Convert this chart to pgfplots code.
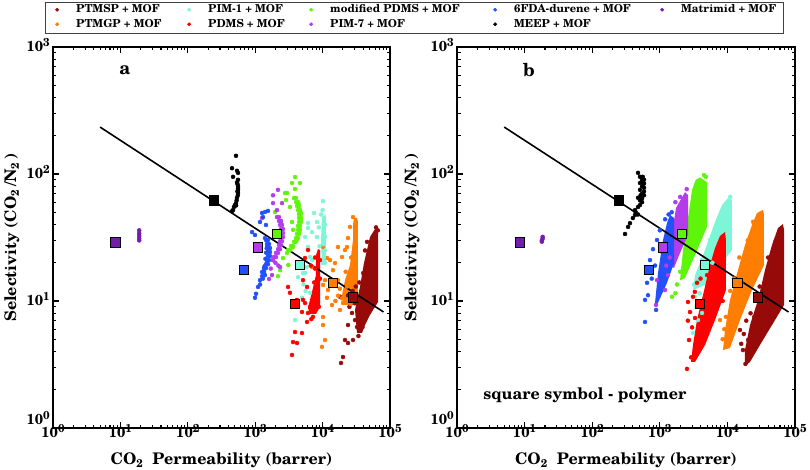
\documentclass[border=0pt]{standalone}
\usepackage{pgfplots}
\pgfplotsset{compat=1.18}
\usepackage{fontspec}
\setmainfont{TeX Gyre Schola}
\definecolor{cPTMSP}{RGB}{150,10,10}
\definecolor{cPTMGP}{RGB}{255,125,0}
\definecolor{cPIMone}{RGB}{125,245,215}
\definecolor{cPDMS}{RGB}{255,0,0}
\definecolor{cMod}{RGB}{95,245,10}
\definecolor{cPIMseven}{RGB}{180,60,235}
\definecolor{cFDA}{RGB}{35,80,250}
\definecolor{cMEEP}{RGB}{0,0,0}
\definecolor{cMatri}{RGB}{115,30,170}
\newcommand{\tp}[1]{10\raisebox{5pt}{\fontsize{11.5}{11.5}\selectfont #1}}
\pgfplotsset{
  mySc/.style={only marks, mark=*, mark size=2pt, color=#1, mark options={draw=none, fill=#1}, forget plot},
  myAr/.style={fill=#1, draw=none, forget plot},
  mySq/.style={only marks, mark=square*, mark size=4.6pt, mark options={fill=#1, draw=black, line width=0.6pt}, forget plot},
  myBound/.style={black, line width=1.6pt, forget plot},
}
\begin{document}
\begin{tikzpicture}
\useasboundingbox (0,0) rectangle (810pt,470pt);
% ================= panel a =================
\begin{axis}[at={(53pt,42pt)}, anchor=south west, width=337pt,
    xmode=log, ymode=log, xmin=1, xmax=100000, ymin=1, ymax=1000,
    scale only axis, height=381pt,
    axis line style={line width=1.8pt},
    tick align=inside, major tick length=6pt, minor tick length=3.5pt,
    tick style={black, line width=1.1pt},
    xtick={1,10,100,1000,10000,100000},
    xticklabels={\tp{0},\tp{1},\tp{2},\tp{3},\tp{4},\tp{5}},
    minor xtick={2,3,4,5,6,7,8,9,20,30,40,50,60,70,80,90,200,300,400,500,600,700,800,900,2000,3000,4000,5000,6000,7000,8000,9000,20000,30000,40000,50000,60000,70000,80000,90000},
    ytick={1,10,100,1000},
    yticklabels={\raisebox{8pt}{\tp{0}},\tp{1},\tp{2},\tp{3}},
    minor ytick={2,3,4,5,6,7,8,9,20,30,40,50,60,70,80,90,200,300,400,500,600,700,800,900},
    xticklabel style={font=\bfseries\fontsize{14.5}{14.5}\selectfont, anchor=base, yshift=-10pt, inner sep=0pt},
    yticklabel style={font=\bfseries\fontsize{14.5}{14.5}\selectfont, anchor=base east, yshift=-5pt, xshift=-3pt, inner sep=0pt},
    xlabel={CO\textsubscript{2}\ \ Permeability (barrer)},
    ylabel={Selectivity (CO\textsubscript{2}\,/N\textsubscript{2}\,)},
    label style={font=\bfseries\fontsize{16}{18}\selectfont},
    xlabel style={at={(axis description cs:0.5,-0.0971)}, anchor=base},
    ylabel style={at={(axis description cs:-0.1217,0.5)}, anchor=center},
  legend columns=5, legend cell align=left,
  legend style={at={(axis description cs:-0.00593,1.0787)}, anchor=west, draw=none, fill=none, inner sep=0pt,
    font=\bfseries\fontsize{11}{12}\selectfont,
    nodes={inner sep=0pt, text height=8.5pt, text depth=2.5pt},
    /tikz/row sep=3.5pt,
    /tikz/every odd column/.append style={column sep=13pt}},
  legend image code/.code={\path[draw=none, fill=none] (0pt,-3pt) (12pt,3pt); \draw[#1] plot coordinates {(6pt,0pt)};},
]
\addlegendimage{only marks, mark=*, mark size=1.7pt, cPTMSP}
\addlegendentry{\makebox[107pt][l]{PTMSP + MOF}}
\addlegendimage{only marks, mark=*, mark size=1.7pt, cPIMone}
\addlegendentry{\makebox[97pt][l]{PIM-1 + MOF}}
\addlegendimage{only marks, mark=*, mark size=1.7pt, cMod}
\addlegendentry{\makebox[159pt][l]{modified PDMS + MOF}}
\addlegendimage{only marks, mark=*, mark size=1.7pt, cFDA}
\addlegendentry{\makebox[142pt][l]{6FDA-durene + MOF}}
\addlegendimage{only marks, mark=*, mark size=1.7pt, cMatri}
\addlegendentry{\makebox[95pt][l]{Matrimid + MOF}}
\addlegendimage{only marks, mark=*, mark size=1.7pt, cPTMGP}
\addlegendentry{\makebox[107pt][l]{PTMGP + MOF}}
\addlegendimage{only marks, mark=*, mark size=1.7pt, cPDMS}
\addlegendentry{\makebox[97pt][l]{PDMS + MOF}}
\addlegendimage{only marks, mark=*, mark size=1.7pt, cPIMseven}
\addlegendentry{\makebox[159pt][l]{PIM-7 + MOF}}
\addlegendimage{only marks, mark=*, mark size=1.7pt, cMEEP}
\addlegendentry{\makebox[142pt][l]{MEEP + MOF}}

% PTMSP
\addplot[myAr=cPTMSP] coordinates {(64130,37.6) (66380,37) (66380,9.82) (50470,7.76) (42580,6.47) (38460,5.60) (32380,5.60) (30270,8.49) (32380,10.2) (35890,12.9) (41120,19.9) (50470,31.9) (59870,36.9) (64130,37.6)};
\addplot[mySc=cPTMSP] coordinates {(27290,8.05) (30270,7.08) (23830,6.47) (21480,4.93) (20080,3.62) (18750,3.25) (27290,9.64) (32380,6.24) (35890,5.91) (18110,10.8) (23830,11.1) (28250,4.93) (23830,4.67) (45600,29.2) (42580,25) (60000,33) (40000,16.6) (35000,14) (30000,9.6) (27000,11) (28000,12) (25000,9) (31000,13) (45000,15) (56000,20) (66000,36) (62000,38) (39000,6.2) (34000,5.3)};
% PTMGP
\addplot[myAr=cPTMGP] coordinates {(29240,45.1) (32380,45.1) (33500,41.9) (33500,10.2) (27290,9.30) (20080,9.30) (19390,11.1) (21480,14.6) (25520,19.2) (28250,30.2) (28250,39.7) (29240,45.1)};
\addplot[mySc=cPTMGP] coordinates {(28250,45.8) (25520,38.3) (23830,31.3) (16910,26.6) (23010,26.6) (10140,26.6) (11620,21.8) (15280,19.9) (6966,18.5) (12880,21) (14260,17.5) (10860,14.6) (10140,13.4) (12030,12.2) (21480,25.2) (19390,22.2) (16910,14.6) (20080,9.64) (18110,8.49) (10140,7.48) (10140,6.47) (10860,4.93) (9790,4.35) (13780,9.30) (11620,10.6) (25520,14) (23010,13) (21480,11.8) (19390,10.5) (26000,9.5) (18000,12.5) (17000,11) (15500,10) (22000,17) (26500,22)};
% PIM-1
\addplot[myAr=cPIMone] coordinates {(9790,45.8) (11230,47.6) (11230,20.3) (9790,19.2) (9470,30.2) (9790,45.8)};
\addplot[mySc=cPIMone] coordinates {(10140,61.2) (7454,49.3) (8260,41.9) (6070,41.1) (6070,37.6) (6966,34.9) (8260,31.9) (5483,31.9) (6070,26.6) (6500,22.2) (4623,19.2) (4316,15.4) (5117,16.6) (4943,10.6) (3899,7.08) (6500,11.6) (5483,16.6) (9500,48) (10000,52) (8800,38) (9000,27) (7000,21) (5800,18.5) (5200,13.5) (5600,12) (10490,45.1) (10860,40) (10490,36) (10860,32) (10490,28) (10860,25) (10490,22) (10860,20) (10140,19.9)};
% PDMS
\addplot[myAr=cPDMS] coordinates {(8550,25.6) (9150,25.2) (9150,8.97) (7980,7.91) (6500,7.91) (6070,8.81) (6966,11.8) (7980,16) (7980,23) (8550,25.6)};
\addplot[mySc=cPDMS] coordinates {(6070,25.2) (5483,21.8) (5117,14.6) (5870,12.9) (3069,12.9) (3281,11.6) (4170,10.2) (4943,8.19) (5117,10.2) (6500,8.97) (5483,9.64) (6070,8.05) (5870,6.84) (3899,5.7) (4943,5.6) (3640,4.75) (4170,4.67) (3516,3.76) (7200,7.5) (6800,7.2) (6700,19) (7500,14) (7400,11) (9150,21) (9150,15) (8800,9) (7710,22) (7710,18)};
% modified PDMS
\addplot[mySc=cMod] coordinates {(3899,94.6) (4623,84.9) (3516,84.9) (3899,76.2) (2768,70.9) (2965,70.9) (2864,62.4) (3281,55) (1967,50.2) (3516,41.9) (3640,36.3) (2584,21.8) (3100,19.2) (2334,17.5) (2178,15.7)
 (4030,64.7) (4316,60.2) (4467,56) (4623,52.1) (4786,48.4) (4786,45.1) (4786,41.9) (4623,39) (4623,36.3) (4467,33.7) (4316,31.3) (4030,29.2) (3640,27.1) (3281,25.2) (2965,23.9)
 (3767,64.7) (4030,60.2) (4170,56) (4316,52.1) (4467,48.4) (4467,45.1) (4467,41.9) (4316,39) (4316,36.3) (4170,33.7) (4030,31.3) (3767,29.2) (3396,27.1) (3069,25.2)
 (4400,58) (4700,50) (4750,43.5) (4500,34.5) (4100,30) (3600,26.5)};
% PIM-7
\addplot[mySc=cPIMseven] coordinates {(1837,68) (2178,75) (2500,59) (1837,59) (2105,52) (1262,45) (2400,42) (1837,21) (2334,18.5) (1775,16) (1603,14.9) (2000,20) (2200,19) (1700,18)
 (2254,45.8) (2415,42.7) (2500,39.7) (2584,36.9) (2584,34.3) (2584,31.9) (2500,29.6) (2415,27.6) (2334,25.6) (2178,23.9) (2037,22.2) (1837,21.0)
 (2105,45.8) (2256,42.7) (2335,39.7) (2414,36.9) (2414,34.3) (2414,31.9) (2335,29.6) (2256,27.6) (2180,25.6) (2034,23.9) (1903,22.2)};
% 6FDA-durene
\addplot[mySc=cFDA] coordinates {(1262,49.3) (1397,50.2) (1549,51.2) (1305,45.8) (1178,41.9) (1445,39.7) (897,34.9) (993,33.1) (1397,31.3) (1520,27) (1450,24) (1480,26) (1420,21.5) (1380,18.8) (1350,17.5) (1397,16) (1101,12.9) (1028,11.4) (993,10.6) (1180,13.5) (1300,15) (1500,20)
 (1549,30.2) (1603,28.1) (1659,26.1) (1659,24.3) (1659,22.6) (1603,21) (1549,19.5) (1445,18.2) (1352,16.9) (1262,15.7) (1178,14.6)
 (1447,30.2) (1497,28.1) (1550,26.1) (1550,24.3) (1550,22.6) (1497,21) (1447,19.5) (1350,18.2) (1263,16.9)};
% MEEP
\addplot[mySc=cMEEP] coordinates {(519,139) (453,111) (537,106) (556,102) (469,95) (556,90) (537,86) (556,80) (556,75) (556,71) (552,68) (537,65) (530,62) (519,59) (500,57) (484,55) (469,52) (453,51) (548,83) (556,77) (545,73) (520,56.5)};
% Matrimid
\addplot[mySc=cMatri] coordinates {(19,36) (19,34) (19,32.5) (19,31) (19,30)};
% polymers
\addplot[mySq=cMatri] coordinates {(8.4,29)};
\addplot[mySq=cMEEP] coordinates {(245,62)};
\addplot[mySq=cFDA] coordinates {(680,17.5)};
\addplot[mySq=cPIMseven] coordinates {(1100,26.5)};
\addplot[mySq=cMod] coordinates {(2100,34)};
\addplot[mySq=cPIMone] coordinates {(4600,19.2)};
\addplot[mySq=cPDMS] coordinates {(3900,9.5)};
\addplot[mySq=cPTMGP] coordinates {(14000,13.9)};
\addplot[mySq=cPTMSP] coordinates {(28000,10.7)};
\addplot[myBound] coordinates {(5,234) (80000,8.2)};
\node[font=\bfseries\fontsize{18}{18}\selectfont] at (axis cs:11.7,660) {a};
\end{axis}
% ================= panel b =================
\begin{axis}[at={(457pt,42pt)}, anchor=south west, width=338pt,
    xmode=log, ymode=log, xmin=1, xmax=100000, ymin=1, ymax=1000,
    scale only axis, height=381pt,
    axis line style={line width=1.8pt},
    tick align=inside, major tick length=6pt, minor tick length=3.5pt,
    tick style={black, line width=1.1pt},
    xtick={1,10,100,1000,10000,100000},
    xticklabels={\tp{0},\tp{1},\tp{2},\tp{3},\tp{4},\tp{5}},
    minor xtick={2,3,4,5,6,7,8,9,20,30,40,50,60,70,80,90,200,300,400,500,600,700,800,900,2000,3000,4000,5000,6000,7000,8000,9000,20000,30000,40000,50000,60000,70000,80000,90000},
    ytick={1,10,100,1000},
    yticklabels={\raisebox{8pt}{\tp{0}},\tp{1},\tp{2},\tp{3}},
    minor ytick={2,3,4,5,6,7,8,9,20,30,40,50,60,70,80,90,200,300,400,500,600,700,800,900},
    xticklabel style={font=\bfseries\fontsize{14.5}{14.5}\selectfont, anchor=base, yshift=-10pt, inner sep=0pt},
    yticklabel style={font=\bfseries\fontsize{14.5}{14.5}\selectfont, anchor=base east, yshift=-5pt, xshift=-3pt, inner sep=0pt},
    xlabel={CO\textsubscript{2}\ \ Permeability (barrer)},
    ylabel={Selectivity (CO\textsubscript{2}\,/N\textsubscript{2}\,)},
    label style={font=\bfseries\fontsize{16}{18}\selectfont},
    xlabel style={at={(axis description cs:0.5,-0.0971)}, anchor=base},
    ylabel style={at={(axis description cs:-0.133,0.5)}, anchor=center},
]
% PTMSP
\addplot[myAr=cPTMSP] coordinates {(56070,37.6) (66400,40.3) (68730,36.3) (68730,9.30) (45660,6.47) (30340,4.51) (21600,3.31) (18200,3.08) (18200,4.11) (21600,6.47) (28400,10.2) (35970,17.5) (45660,27.6) (56070,37.6)};
\addplot[mySc=cPTMSP] coordinates {(15360,5.91) (17000,4.11) (20200,4.93) (17500,5.5) (19000,7) (22000,8) (16000,4.6) (18500,3.2) (25000,7.5) (30000,13) (40000,22) (52000,30)};
% PTMGP
\addplot[myAr=cPTMGP] coordinates {(27400,49.3) (33650,52.1) (34760,47.6) (34760,19.2) (23100,12.2) (15360,7.08) (10920,4.27) (8610,4.11) (9210,5.91) (10920,10.2) (14350,17.5) (18200,27.6) (23100,39.7) (27400,49.3)};
\addplot[mySc=cPTMGP] coordinates {(7774,7.08) (8500,5) (9500,7.5) (12000,9) (13000,11) (16000,14) (11000,12) (9000,6) (20000,30) (15000,22) (12500,15) (24000,42)};
% PIM-1
\addplot[myAr=cPIMone] coordinates {(10200,64.7) (11690,62.4) (11690,25.2) (7774,19.2) (4667,13.4) (3097,12.2) (3318,16) (4667,25.2) (6555,41.9) (8318,57) (10200,64.7)};
\addplot[mySc=cPIMone] coordinates {(3318,10.8) (3097,5.6) (3673,7.08) (4210,8.05) (5530,30.2) (7010,37.6) (3500,9) (3900,11.5) (4000,14) (6000,20) (9000,55) (11000,66) (3200,13.5) (4200,21)};
% PDMS
\addplot[myAr=cPDMS] coordinates {(7774,32.5) (9210,34.9) (9530,30.2) (9530,12.2) (6555,7.08) (4667,4.51) (3318,3.31) (2895,3.31) (3097,4.51) (3550,7.08) (4350,11.1) (5530,19.2) (6555,26.1) (7774,32.5)};
\addplot[mySc=cPDMS] coordinates {(2800,8.19) (2614,9.82) (2524,2.92) (3318,7.35) (3097,10.8) (3550,13.9) (2700,4.93) (3000,6.2) (3300,11.8) (4000,15) (2600,7) (5000,16) (8500,10) (2900,3.6)};
% modified PDMS
\addplot[myAr=cMod] coordinates {(3934,94) (4990,86) (4990,38.3) (3318,23.0) (2360,15.2) (1990,14.5) (2204,25.2) (2524,39.7) (2994,74.8) (3400,90) (3934,94)};
\addplot[mySc=cMod] coordinates {(1515,10.8) (2204,18.2) (1795,13.5) (4350,62) (2600,20) (2000,17) (4800,95) (4500,98) (3000,30) (1700,11.5)};
% PIM-7
\addplot[myAr=cPIMseven] coordinates {(2360,72.1) (2614,68.3) (2614,33.1) (1990,23.9) (1622,18.2) (1515,18.5) (1567,38.3) (1737,54) (2360,72.1)};
\addplot[mySc=cPIMseven] coordinates {(1007,26.6) (909,14.6) (879,9.3) (1194,12.2) (1322,16) (1245,19) (1400,22) (1700,60) (2000,66) (2500,76) (1900,28)};
% 6FDA-durene
\addplot[myAr=cFDA] coordinates {(1416,47.6) (1622,45.1) (1622,19.9) (1278,13.9) (909,9.30) (849,9.64) (940,16.6) (1115,30.2) (1278,41.1) (1416,47.6)};
\addplot[mySc=cFDA] coordinates {(793,25.6) (647,13.9) (604,6.84) (669,11.1) (909,30.2) (716,21) (604,10.2) (1000,36) (1200,44) (850,19) (760,15) (980,12) (1500,50) (1350,48) (1100,24) (880,8.5) (720,17)};
% MEEP
\addplot[mySc=cMEEP] coordinates {(476,102) (509,95) (546,92) (584,90) (509,85) (546,80) (584,78) (509,75) (546,70) (584,68) (476,65) (546,60) (509,57) (476,55) (430,52) (476,48) (430,47.6) (362,41) (339,38.3) (306,33.7) (546,88) (584,84) (584,73) (546,64) (509,62) (440,50) (400,45) (520,68) (560,95)};
% Matrimid
\addplot[mySc=cMatri] coordinates {(18.5,32) (18.5,31) (18,30) (18,29.3)};
% polymers
\addplot[mySq=cMatri] coordinates {(8.4,29)};
\addplot[mySq=cMEEP] coordinates {(245,62)};
\addplot[mySq=cFDA] coordinates {(680,17.5)};
\addplot[mySq=cPIMseven] coordinates {(1100,26.5)};
\addplot[mySq=cMod] coordinates {(2100,34)};
\addplot[mySq=cPIMone] coordinates {(4600,19.2)};
\addplot[mySq=cPDMS] coordinates {(3900,9.5)};
\addplot[mySq=cPTMGP] coordinates {(14000,13.9)};
\addplot[mySq=cPTMSP] coordinates {(28000,10.7)};
\addplot[myBound] coordinates {(5,234) (80000,8.2)};
\node[font=\bfseries\fontsize{18}{18}\selectfont] at (axis cs:11.6,660) {b};
\node[font=\bfseries\fontsize{16}{16}\selectfont] at (axis cs:78,1.82) {square symbol - polymer};
\end{axis}
\draw[line width=0.8pt, black!75] (45pt,437pt) rectangle (783pt,468pt);
\end{tikzpicture}
\end{document}
